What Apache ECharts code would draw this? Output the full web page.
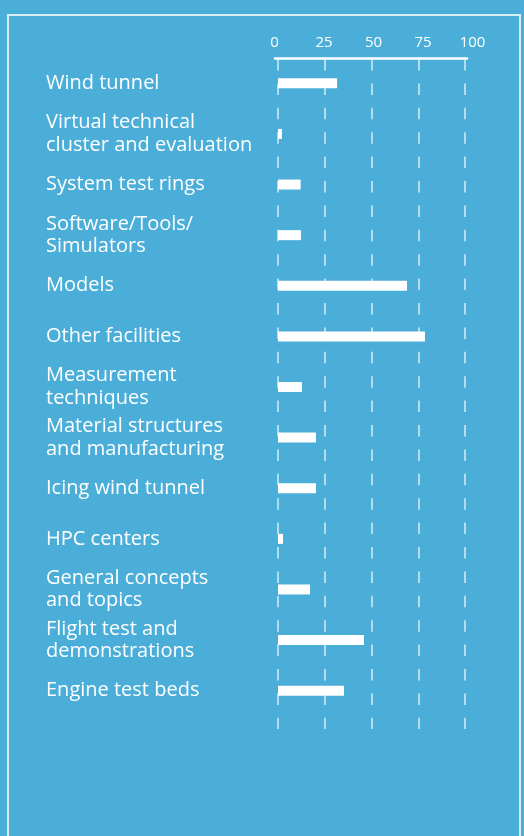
<!DOCTYPE html>
<html>
<head>
<meta charset="utf-8">
<script src="https://cdn.jsdelivr.net/npm/echarts@6/dist/echarts.min.js"></script>
<style>
  html, body { margin: 0; padding: 0; background: #4aaed9; overflow: hidden; }
  #chart { position: absolute; left: 0; top: 0; width: 524px; height: 836px; }
  #frame { position: absolute; left: 7px; top: 14px; width: 514px; height: 900px;
           box-sizing: border-box; border: 2px solid rgba(255,255,255,0.78); border-bottom: none;
           pointer-events: none; }
</style>
</head>
<body>
<div id="chart"></div>
<div id="frame"></div>
<script>
const categories = [
  "Wind tunnel",
  "Virtual technical\ncluster and evaluation",
  "System test rings",
  "Software/Tools/\nSimulators",
  "Models",
  "Other facilities",
  "Measurement\ntechniques",
  "Material structures\nand manufacturing",
  "Icing wind tunnel",
  "HPC centers",
  "General concepts\nand topics",
  "Flight test and\ndemonstrations",
  "Engine test beds"
];
const values = [31.6, 2.1, 12.1, 12.3, 69, 78.6, 12.8, 20.3, 20.3, 2.7, 17.1, 46, 35.3];
const tickValues = [0, 25, 50, 75, 100];

const FONT = 'Open Sans';
const chart = echarts.init(document.getElementById('chart'), null, { renderer: 'canvas' });
chart.setOption({
  animation: false,
  backgroundColor: '#4aaed9',
  grid: [
    { left: 278, width: 187, top: 58, height: 658 },
    { left: 278, width: 187, top: 59, height: 670 },
    { left: 275, width: 192, top: 58, height: 10 },
    { left: 274.5, width: 198, top: 58, height: 10 }
  ],
  xAxis: [
    { gridIndex: 0, type: 'value', min: tickValues[0], max: tickValues[tickValues.length - 1], show: false },
    { gridIndex: 1, type: 'value', min: 0, max: 100, interval: 25,
      axisLine: { show: false }, axisTick: { show: false }, axisLabel: { show: false },
      splitLine: { show: true, lineStyle: { color: 'rgba(255,255,255,0.72)', width: 1.6, type: [11.5, 12.9] } } },
    { gridIndex: 2, type: 'value', position: 'top', min: 0, max: 100,
      axisLine: { show: true, onZero: false, lineStyle: { color: '#ffffff', width: 2.6 } },
      axisTick: { show: false }, axisLabel: { show: false }, splitLine: { show: false } },
    { gridIndex: 3, type: 'value', position: 'top', min: 0, max: 100, interval: 25,
      axisLine: { show: false, onZero: false }, axisTick: { show: false }, splitLine: { show: false },
      axisLabel: { color: '#ffffff', fontSize: 15, fontWeight: 400, fontFamily: FONT, margin: 7.5,
        formatter: v => tickValues.includes(v) ? String(v) : '' } }
  ],
  yAxis: [
    { gridIndex: 0, type: 'category', inverse: true, data: categories,
      axisLine: { show: false }, axisTick: { show: false }, splitLine: { show: false },
      axisLabel: { align: 'left', margin: 232, color: '#ffffff', fontSize: 20, lineHeight: 22.5,
        fontFamily: FONT, verticalAlign: 'middle' } },
    { gridIndex: 1, type: 'value', show: false },
    { gridIndex: 2, type: 'value', show: false },
    { gridIndex: 3, type: 'value', show: false }
  ],
  series: [
    { type: 'bar', xAxisIndex: 0, yAxisIndex: 0, data: values, barWidth: 10,
      itemStyle: { color: '#ffffff' } }
  ]
});
</script>
</body>
</html>
